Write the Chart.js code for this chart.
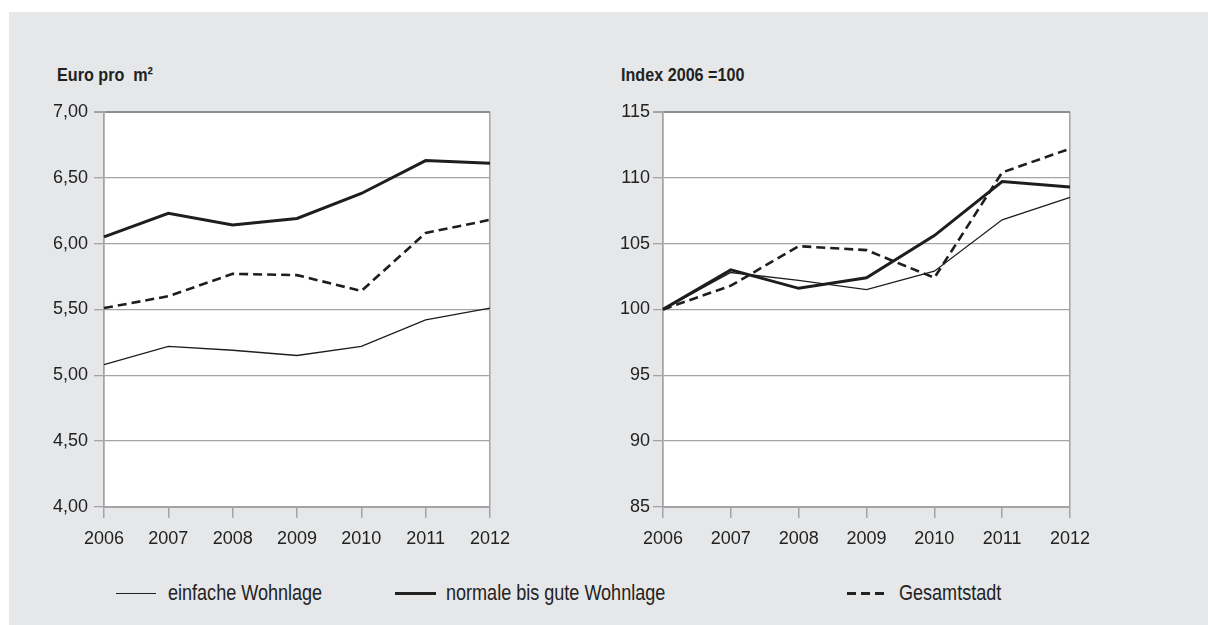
<!DOCTYPE html>
<html lang="de">
<head>
    <meta charset="UTF-8">
    <title>Mietpreise Wohnlagen</title>
    <script src="https://cdn.jsdelivr.net/npm/chart.js"></script>
    <style>
      body { margin: 0; background: #fff; font-family: "Liberation Sans", Arial, sans-serif; color: #222; }
      #panel { position: absolute; left: 9px; top: 12px; width: 1199px; height: 613px; background: #e6e7e9; }
      .title { position: absolute; top: 63px; font-size: 19px; font-weight: bold; line-height: 24px;
               transform: scaleX(0.85); transform-origin: left center; white-space: nowrap; }
      .box { position: absolute; }
      .legend { position: absolute; top: 579px; font-size: 22px; line-height: 28px;
                transform: scaleX(0.82); transform-origin: left center; white-space: nowrap; }
      .sample { position: absolute; background: #222; }
    </style>
</head>
<body>
    <div id="panel"></div>
    <div class="title" style="left:57px">Euro pro &nbsp;m²</div>
    <div class="title" style="left:621px">Index 2006 =100</div>

    <div class="box" style="left:30px; top:95px; width:490px; height:465px;"><canvas id="leftChart"></canvas></div>
    <div class="box" style="left:590px; top:98px; width:520px; height:462px;"><canvas id="rightChart"></canvas></div>

    <div class="sample" style="left:116px; top:593px; width:40px; height:1.3px;"></div>
    <div class="legend" style="left:168px">einfache Wohnlage</div>
    <div class="sample" style="left:395px; top:592px; width:41px; height:3px;"></div>
    <div class="legend" style="left:446px">normale bis gute Wohnlage</div>
    <div class="sample" style="left:847px; top:592px; width:37px; height:3px; background:repeating-linear-gradient(to right, #222 0 9px, transparent 9px 14px);"></div>
    <div class="legend" style="left:899px">Gesamtstadt</div>

    <script>
        const years = ['2006', '2007', '2008', '2009', '2010', '2011', '2012'];

        // Euro pro m²
        const euroEinfache = [5.08, 5.22, 5.19, 5.15, 5.22, 5.42, 5.51];
        const euroNormale  = [6.05, 6.23, 6.14, 6.19, 6.38, 6.63, 6.61];
        const euroGesamt   = [5.51, 5.60, 5.77, 5.76, 5.64, 6.08, 6.18];

        // Index 2006 = 100
        const indexEinfache = [100, 102.8, 102.2, 101.5, 102.9, 106.8, 108.5];
        const indexNormale  = [100, 103.0, 101.6, 102.4, 105.6, 109.7, 109.3];
        const indexGesamt   = [100, 101.8, 104.8, 104.5, 102.4, 110.4, 112.2];

        const gridGray = '#a4a4a6';
        const ink = '#1e1e1e';
        const tickFont = { family: '"Liberation Sans", Arial, sans-serif', size: 18 };

        // white plot area on the grey panel
        const whiteArea = {
            id: 'whiteArea',
            beforeDraw(chart) {
                const a = chart.chartArea;
                chart.ctx.save();
                chart.ctx.fillStyle = '#fff';
                chart.ctx.fillRect(a.left, a.top, a.right - a.left, a.bottom - a.top);
                chart.ctx.restore();
            }
        };

        function series(einfache, normale, gesamt) {
            return [
                { label: 'einfache Wohnlage', data: einfache, borderColor: ink, borderWidth: 1.3 },
                { label: 'normale bis gute Wohnlage', data: normale, borderColor: ink, borderWidth: 3 },
                { label: 'Gesamtstadt', data: gesamt, borderColor: ink, borderWidth: 2.6, borderDash: [9, 5] }
            ];
        }

        function makeChart(id, datasets, yMin, yMax, step, fmt, yWidth, yPad, padRight) {
            return new Chart(document.getElementById(id), {
                type: 'line',
                data: { labels: years, datasets: datasets },
                plugins: [whiteArea],
                options: {
                    responsive: true,
                    maintainAspectRatio: false,
                    animation: false,
                    elements: { point: { radius: 0 }, line: { tension: 0, fill: false } },
                    layout: { padding: { top: 11, right: padRight, bottom: 0, left: 0 } },
                    plugins: { legend: { display: false }, tooltip: { enabled: false } },
                    scales: {
                        x: {
                            offset: false,
                            border: { color: gridGray, width: 2 },
                            grid: {
                                color: ctx => (ctx.index === 0 || ctx.index === years.length - 1) ? gridGray : 'rgba(0,0,0,0)',
                                tickColor: gridGray,
                                tickLength: 11,
                                lineWidth: 1.5
                            },
                            ticks: { color: '#222', font: tickFont, padding: 10, maxRotation: 0 },
                            afterFit: s => { s.height = 53; }
                        },
                        y: {
                            min: yMin, max: yMax,
                            border: { color: gridGray, width: 1.5 },
                            grid: {
                                color: ctx => ctx.tick && ctx.tick.value === yMax ? '#8e8e90' : gridGray,
                                lineWidth: ctx => ctx.tick && ctx.tick.value === yMax ? 2 : 1.3,
                                tickColor: gridGray,
                                tickLength: 10
                            },
                            ticks: { stepSize: step, color: '#222', font: tickFont, padding: yPad, callback: fmt },
                            afterFit: s => { s.width = yWidth; }
                        }
                    }
                }
            });
        }

        makeChart('leftChart', series(euroEinfache, euroNormale, euroGesamt), 4, 7, 0.5,
            v => v.toFixed(2).replace('.', ','), 74, 6, 28);
        makeChart('rightChart', series(indexEinfache, indexNormale, indexGesamt), 85, 115, 5,
            v => v, 73, 3, 40);
    </script>
</body>
</html>
